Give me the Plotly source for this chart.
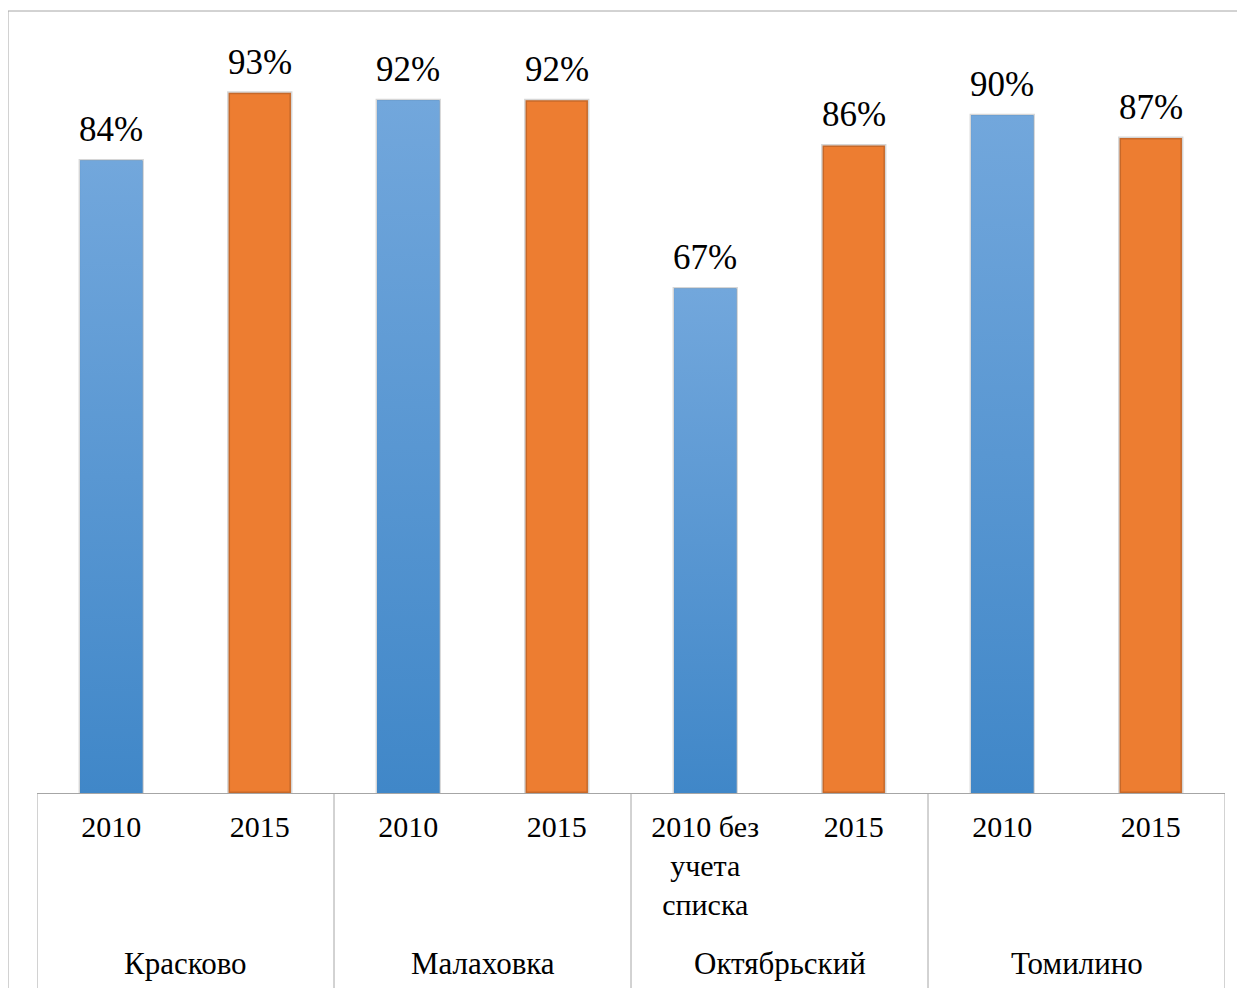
import plotly.graph_objects as go

settlements = ["Красково", "Малаховка", "Октябрьский", "Томилино"]
years = ["2010", "2015", "2010", "2015",
         "2010 без<br>учета<br>списка", "2015", "2010", "2015"]
shares = [84, 93, 92, 92, 67, 86, 90, 87]

blue_top = "#72a7dc"
blue_bottom = "#4087c8"
orange = "#ed7d31"
font_family = "Liberation Serif"
bar_w = 0.42

positions = list(range(len(shares)))
bar_colors = [blue_bottom if i % 2 == 0 else orange for i in positions]

fig = go.Figure()
fig.add_trace(
    go.Bar(
        x=positions,
        y=shares,
        width=bar_w,
        marker=dict(color=bar_colors, line=dict(color="rgba(0,0,0,0.16)", width=3)),
        hoverinfo="skip",
    )
)

# vertical gradient on the 2010 (blue) bars
for i in positions[::2]:
    v = shares[i]
    fig.add_trace(
        go.Scatter(
            x=[i - bar_w / 2, i - bar_w / 2, i + bar_w / 2, i + bar_w / 2, i - bar_w / 2],
            y=[0, v, v, 0, 0],
            mode="lines",
            line=dict(width=0),
            fill="toself",
            fillgradient=dict(type="vertical",
                              colorscale=[[0, blue_bottom], [1, blue_top]]),
            hoverinfo="skip",
        )
    )

# value labels above the bars
annotations = []
for i, v in zip(positions, shares):
    annotations.append(dict(x=i, y=v, xref="x", yref="y", text=f"{v}%",
                            showarrow=False, yanchor="bottom", yshift=9,
                            font=dict(family=font_family, size=35, color="black")))

# group dividers and labels below the axis
n_groups = len(settlements)
shapes = []
for g in range(n_groups + 1):
    shapes.append(dict(type="line", xref="x", yref="paper", x0=2 * g - 0.5, x1=2 * g - 0.5,
                       y0=0, y1=-0.27, line=dict(color="#a6a6a6", width=1)))
# outer chart frame (top and left edges visible in the crop)
shapes.append(dict(type="line", xref="paper", yref="paper", x0=-0.0244, x1=1.1,
                   y0=1.0385, y1=1.0385, line=dict(color="#a6a6a6", width=1)))
shapes.append(dict(type="line", xref="paper", yref="paper", x0=-0.0244, x1=-0.0244,
                   y0=1.0385, y1=-0.27, line=dict(color="#a6a6a6", width=1)))

for g, name in enumerate(settlements):
    annotations.append(dict(x=2 * g + 0.5, y=-0.2258, xref="x", yref="paper",
                            text=name, showarrow=False, yanchor="middle",
                            font=dict(family=font_family, size=31, color="black")))

fig.update_layout(
    width=1237,
    height=980,
    margin=dict(l=29, r=20, t=32, b=195, autoexpand=False),
    paper_bgcolor="white",
    plot_bgcolor="white",
    showlegend=False,
    font=dict(family=font_family, size=31, color="black"),
    xaxis=dict(
        range=[-0.5, len(shares) - 0.5],
        tickvals=positions,
        ticktext=years,
        ticks="",
        ticklabelstandoff=7,
        showline=True,
        linecolor="#a6a6a6",
        linewidth=1,
        showgrid=False,
        zeroline=False,
        tickfont=dict(family=font_family, size=30, color="black"),
        automargin=False,
    ),
    yaxis=dict(range=[0, 100], visible=False, automargin=False),
    shapes=shapes,
    annotations=annotations,
)

fig.write_html("out.html")
